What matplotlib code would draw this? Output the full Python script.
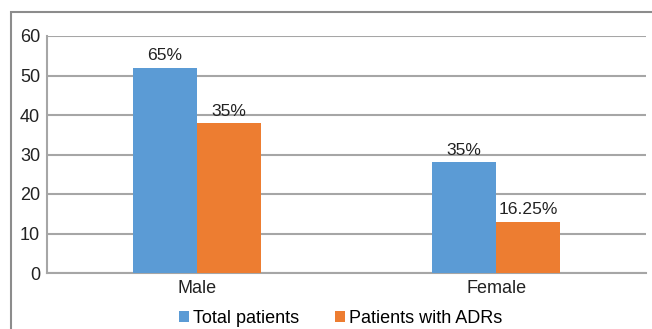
"""Bar chart: total patients vs patients with ADRs, split by gender."""
import matplotlib.pyplot as plt
import matplotlib.patches as mpatches
import numpy as np

plt.rcParams["font.family"] = ["Liberation Sans", "DejaVu Sans"]

categories = ["Male", "Female"]
total_patients = [52, 28]
patients_with_adrs = [38, 13]
total_labels = ["65%", "35%"]
adr_labels = ["35%", "16.25%"]

BLUE = "#5b9bd5"
ORANGE = "#ed7d31"
GRID = "#a6a6a6"

W, H = 652, 329
fig = plt.figure(figsize=(W / 100, H / 100), dpi=100)
ax = fig.add_axes([47 / W, 1 - 273 / H, (646 - 47) / W, (273 - 36) / H])

x = np.arange(len(categories))
bw = 0.214
b1 = ax.bar(x - bw / 2, total_patients, bw, color=BLUE, label="Total patients", zorder=3)
b2 = ax.bar(x + bw / 2, patients_with_adrs, bw, color=ORANGE, label="Patients with ADRs", zorder=3)

for bars, labels in ((b1, total_labels), (b2, adr_labels)):
    for rect, lab in zip(bars, labels):
        ax.text(rect.get_x() + rect.get_width() / 2, rect.get_height() + 1.1, lab,
                ha="center", va="bottom", fontsize=12.6, color="#222222", zorder=4)

ax.set_xlim(-0.5, 1.5)
ax.set_ylim(0, 60)
ax.set_yticks(range(0, 61, 10))
ax.set_xticks(x)
ax.set_xticklabels(categories)
ax.tick_params(axis="both", length=0, labelsize=13, colors="#222222")
ax.tick_params(axis="y", pad=5)
ax.tick_params(axis="x", pad=5)
ax.yaxis.grid(True, color=GRID, linewidth=1.5, zorder=0)

for side in ("top", "right"):
    ax.spines[side].set_visible(False)
ax.spines["left"].set_color(GRID)
ax.spines["bottom"].set_color(GRID)
ax.spines["left"].set_linewidth(1.5)
ax.spines["bottom"].set_linewidth(1.5)

ax.legend(loc="center", bbox_to_anchor=(0.49, -0.19), ncol=2, frameon=False,
          fontsize=13, handlelength=0.55, handleheight=0.55, handletextpad=0.2,
          columnspacing=2.0)

# outer chart frame, running off the right and bottom edges
fig.patches.append(mpatches.Rectangle((11 / W, -0.1), 1.2, 1 - 12 / H + 0.1,
                                      transform=fig.transFigure, fill=False,
                                      edgecolor="#8c8c8c", linewidth=1.5))

fig.savefig("out.png", dpi=100)
